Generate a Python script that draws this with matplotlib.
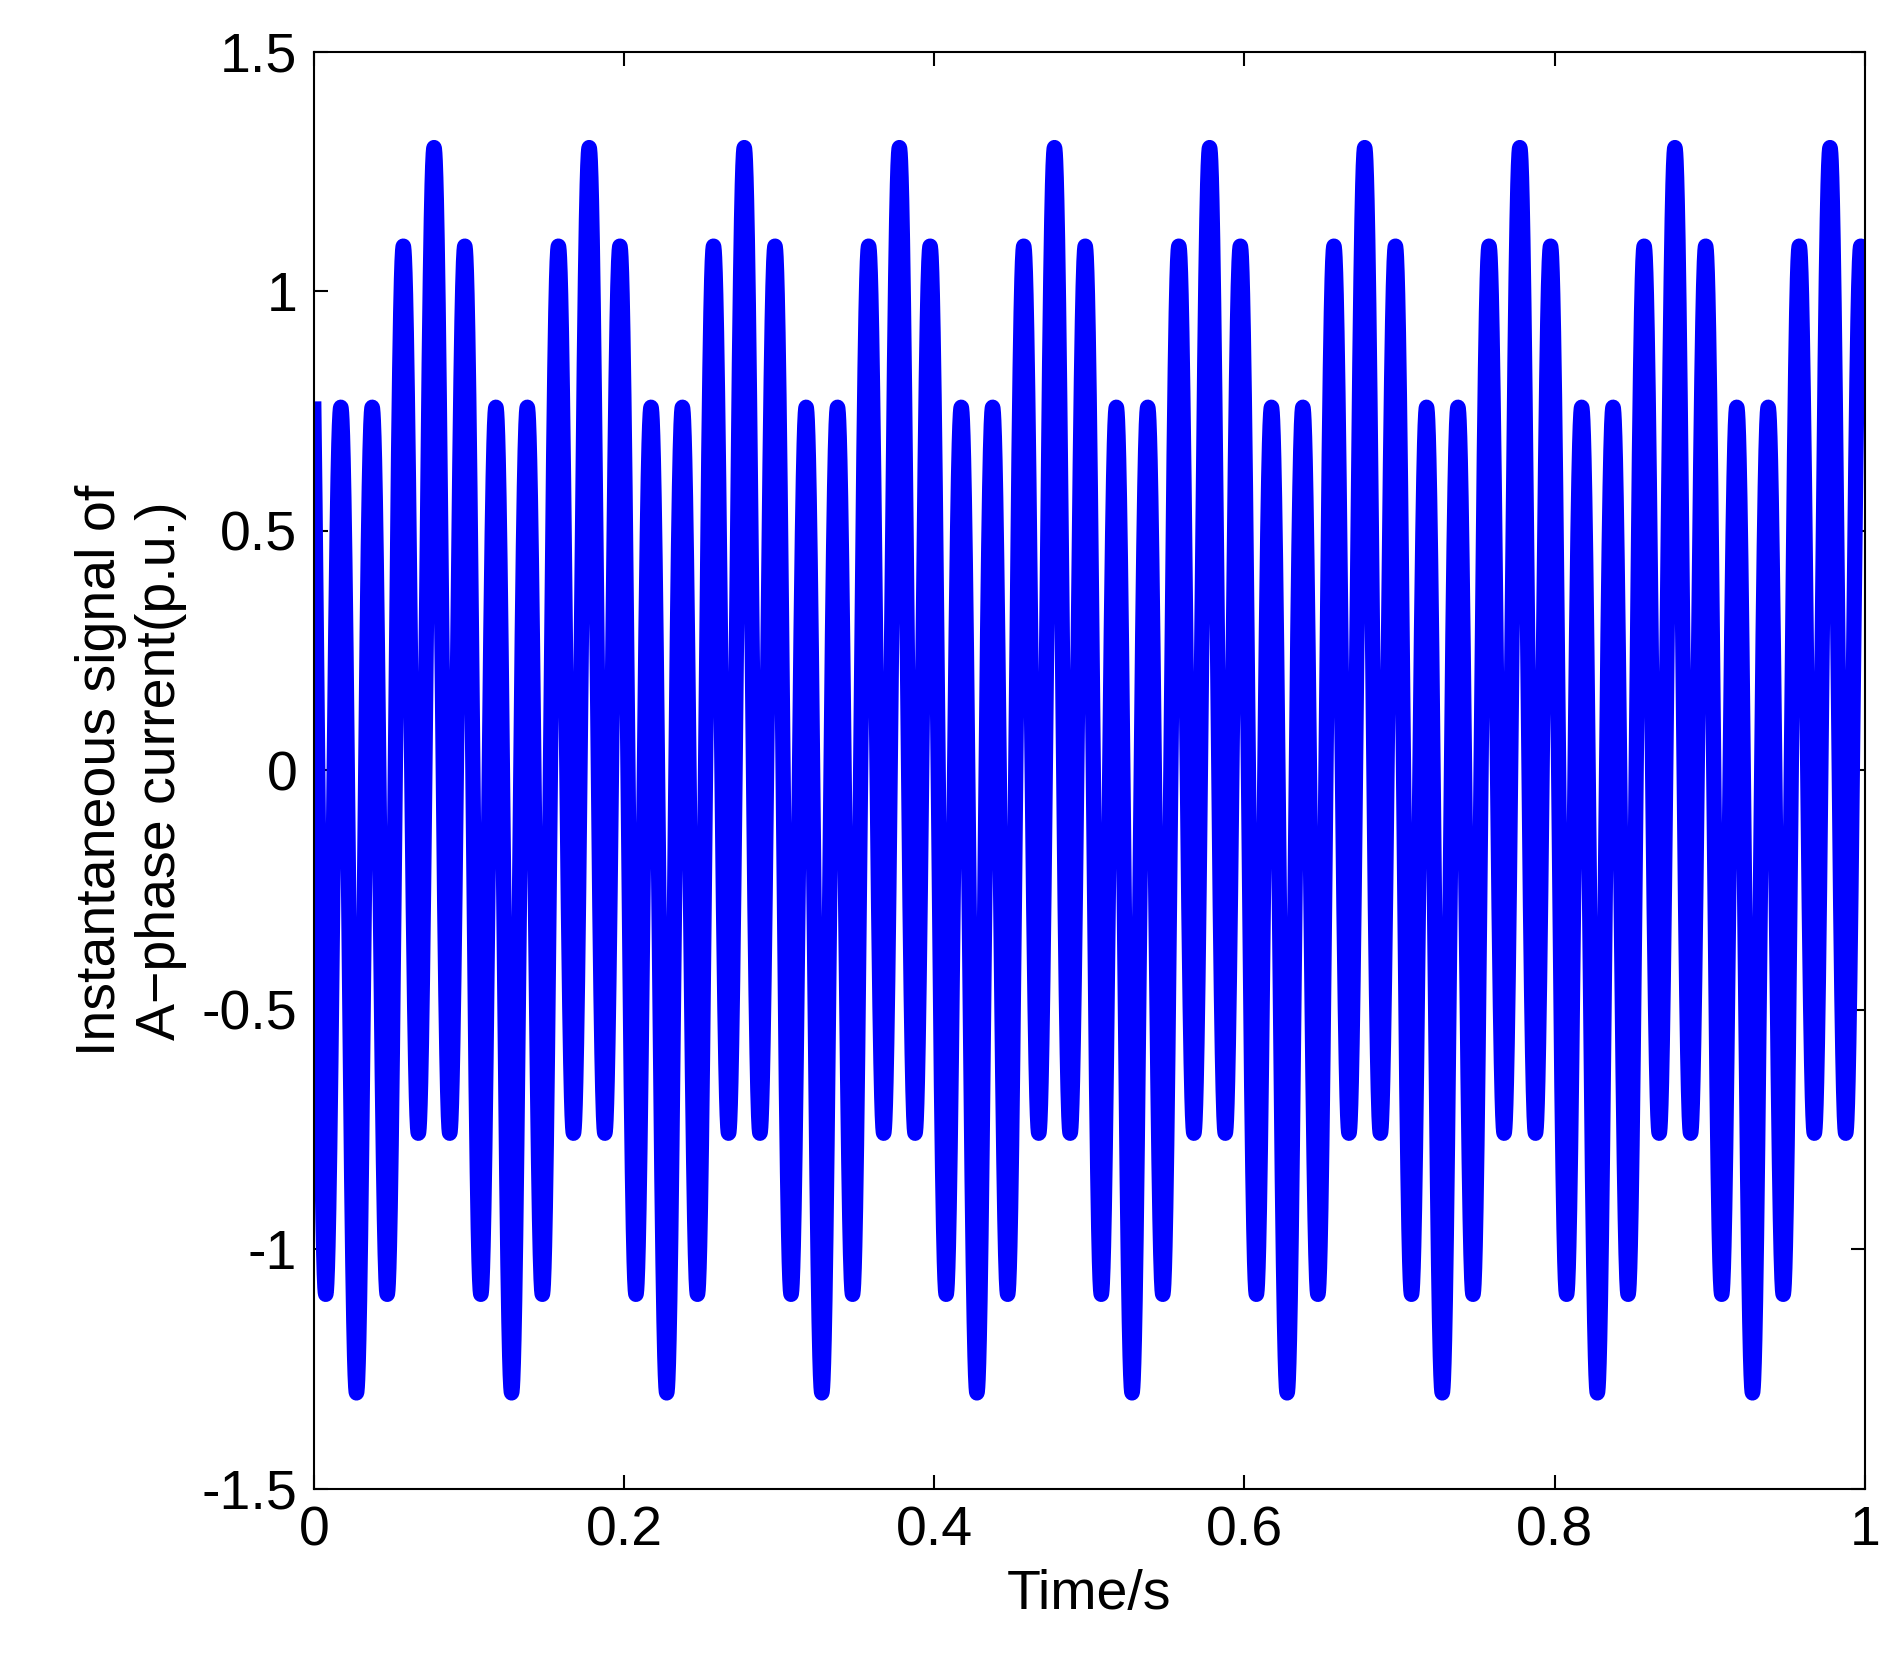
#!/usr/bin/env python3

import numpy as np
import matplotlib.pyplot as plt

# signal parameters
fund_freq = 50.0      # Hz, carrier
fund_amp = 1.0
sub_freq = 10.0       # Hz, sub-harmonic component
sub_amp = 0.3
peak_time = 0.0775    # s, a time where both components peak (1.3 p.u.)

x_ticks = [0, 0.2, 0.4, 0.6, 0.8, 1]
x_labels = ["0", "0.2", "0.4", "0.6", "0.8", "1"]
y_ticks = [-1.5, -1, -0.5, 0, 0.5, 1, 1.5]
y_labels = ["-1.5", "-1", "-0.5", "0", "0.5", "1", "1.5"]


def main():
    plt.rcParams['font.family'] = ['Liberation Sans', 'DejaVu Sans']

    t = np.linspace(0, 1, 8001)
    i_a = (fund_amp * np.cos(2 * np.pi * fund_freq * (t - peak_time))
           + sub_amp * np.cos(2 * np.pi * sub_freq * (t - peak_time)))

    fig = plt.figure(figsize=(19.02, 16.69), dpi=100)
    ax = fig.add_axes([0.165, 0.108, 0.8155, 0.861])

    ax.plot(t, i_a, color="blue", lw=11)

    ax.set_xlim(0, 1)
    ax.set_ylim(-1.5, 1.5)
    ax.set_xticks(x_ticks, x_labels)
    ax.set_yticks(y_ticks, y_labels)
    ax.tick_params(direction='in', top=True, right=True, length=10,
                   width=1.5, labelsize=40, pad=12)
    for s in ax.spines.values():
        s.set_linewidth(1.5)

    ax.set_xlabel('Time/s', fontsize=40, labelpad=8)
    ax.set_ylabel('Instantaneous signal of\nA\u2212phase current(p.u.)',
                  fontsize=40, labelpad=10)

    fig.savefig("out.png")
    plt.close(fig)


if __name__ == "__main__":
    main()
